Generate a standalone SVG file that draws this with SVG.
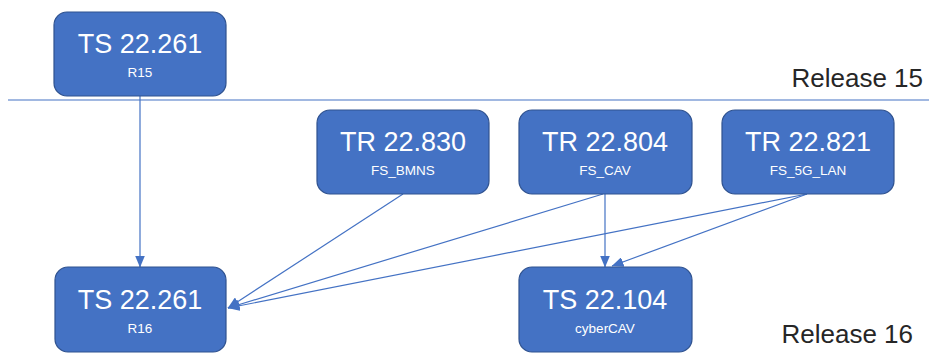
<svg xmlns="http://www.w3.org/2000/svg" width="929" height="353" viewBox="0 0 929 353">
<style>
.box{fill:#4472C4;stroke:#2F528F;stroke-width:1.2}
.t{font-family:"Liberation Sans",Arial,sans-serif;fill:#fff;text-anchor:middle}
.h{font-size:27px}
.s{font-size:13.5px}
.rel{font-family:"Liberation Sans",Arial,sans-serif;font-size:26px;fill:#262626;text-anchor:end}
.c{stroke:#4472C4;stroke-width:1.2;fill:none;marker-end:url(#ah)}
</style>
<defs>
<marker id="ah" markerUnits="userSpaceOnUse" markerWidth="12" markerHeight="10" viewBox="0 0 12 10" refX="11.5" refY="5" orient="auto">
<path d="M0,0 L12,5 L0,10 Z" fill="#4472C4"/>
</marker>
</defs>
<rect width="929" height="353" fill="#fff"/>
<line x1="8" y1="100" x2="929" y2="100" stroke="#4472C4" stroke-width="1.2"/>
<text class="rel" x="923" y="87">Release 15</text>
<text class="rel" x="913" y="343">Release 16</text>
<g id="connectors">
<line class="c" x1="140" y1="96" x2="140" y2="267"/>
<line class="c" x1="403" y1="194" x2="228" y2="308"/>
<line class="c" x1="603" y1="194" x2="228" y2="308"/>
<line class="c" x1="807" y1="194" x2="228" y2="308"/>
<line class="c" x1="605" y1="194" x2="605" y2="267"/>
<line class="c" x1="807" y1="194" x2="612" y2="266"/>
</g>
<g id="ts22261r15">
<rect class="box" x="54" y="12" width="172" height="84" rx="13"/>
<text class="t h" x="140" y="53">TS 22.261</text>
<text class="t s" x="140" y="77">R15</text>
</g>
<g id="tr22830">
<rect class="box" x="317" y="110" width="172" height="84" rx="13"/>
<text class="t h" x="403" y="151">TR 22.830</text>
<text class="t s" x="403" y="175">FS_BMNS</text>
</g>
<g id="tr22804">
<rect class="box" x="519" y="110" width="173" height="84" rx="13"/>
<text class="t h" x="605" y="151">TR 22.804</text>
<text class="t s" x="605" y="175">FS_CAV</text>
</g>
<g id="tr22821">
<rect class="box" x="722" y="110" width="172" height="84" rx="13"/>
<text class="t h" x="808" y="151">TR 22.821</text>
<text class="t s" x="808" y="175">FS_5G_LAN</text>
</g>
<g id="ts22261r16">
<rect class="box" x="55" y="267" width="171" height="85" rx="13"/>
<text class="t h" x="140" y="309">TS 22.261</text>
<text class="t s" x="140" y="333">R16</text>
</g>
<g id="ts22104">
<rect class="box" x="519" y="267" width="173" height="85" rx="13"/>
<text class="t h" x="605" y="309">TS 22.104</text>
<text class="t s" x="605" y="333">cyberCAV</text>
</g>
</svg>
